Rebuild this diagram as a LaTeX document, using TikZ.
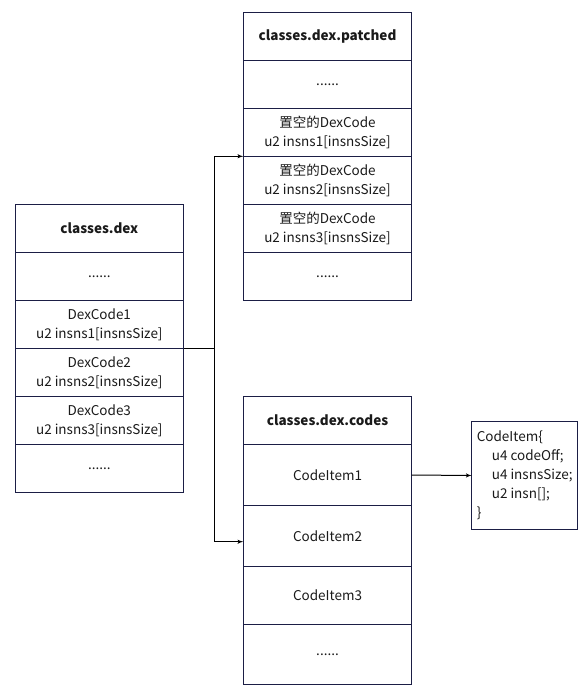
\documentclass[tikz,border=0pt]{standalone}
\usepackage{fontspec}
\setmainfont{Noto Sans CJK SC}
\usetikzlibrary{arrows}
\definecolor{boxline}{HTML}{1B1E45}
\definecolor{ink}{HTML}{1A1A1A}

\begin{document}
\begin{tikzpicture}[x=1pt,y=-1pt]

\tikzset{cell/.style = {shape=rectangle,draw=boxline,line width=1pt,minimum width=168.4pt,minimum height=48pt,inner sep=0pt,outer sep=0pt,align=center,text=ink,font=\fontsize{13.5}{19}\selectfont}}
\tikzset{head/.style = {cell,font=\fontsize{13.5}{19}\selectfont\bfseries}}
\tikzset{edge/.style = {->,> = latex',line width=1pt}}
\useasboundingbox (0,0) rectangle (587,695);
%classes.dex
\node[head] (dexhead) at (99.3,228.3) {classes.dex};
\node[cell] (dex0) at (99.3,276.3) {......};
\node[cell] (dex1) at (99.3,324.3) {DexCode1\\u2 insns1[insnsSize]};
\node[cell] (dex2) at (99.3,372.3) {DexCode2\\u2 insns2[insnsSize]};
\node[cell] (dex3) at (99.3,420.3) {DexCode3\\u2 insns3[insnsSize]};
\node[cell] (dex4) at (99.3,468.6) {......};
%classes.dex.patched
\node[head] (pathead) at (327.5,36.3) {classes.dex.patched};
\node[cell] (pat0) at (327.5,84.3) {......};
\node[cell] (pat1) at (327.5,132.3) {置空的DexCode\\u2 insns1[insnsSize]};
\node[cell] (pat2) at (327.5,180.3) {置空的DexCode\\u2 insns2[insnsSize]};
\node[cell] (pat3) at (327.5,228.3) {置空的DexCode\\u2 insns3[insnsSize]};
\node[cell] (pat4) at (327.5,276.3) {......};
%classes.dex.codes
\node[head] (codhead) at (327.5,420.2) {classes.dex.codes};
\node[cell, minimum height=61.4pt] (cod1) at (327.5,475) {CodeItem1};
\node[cell, minimum height=61pt] (cod2) at (327.5,536.2) {CodeItem2};
\node[cell, minimum height=57.6pt] (cod3) at (327.5,595.5) {CodeItem3};
\node[cell, minimum height=60.7pt] (cod4) at (327.5,654.6) {......};
%CodeItem
\node[cell, minimum width=106pt, minimum height=107.6pt, inner xsep=3pt, align=left] (item) at (524.7,475.5)
  {CodeItem\{\\\hspace*{15pt}u4 codeOff;\\\hspace*{15pt}u4 insnsSize;\\\hspace*{15pt}u2 insn[];\\\}};
%edges
\coordinate (fork) at (214.3,348.3);
\draw [line width=1pt] (dex1.south east) -- (fork);
\draw [edge] (fork) |- (pat1.south west);
\draw [edge] (fork) |- ([yshift=-5.5pt]cod2.west);
\draw [edge] (cod1.east) -- (item.west);

\end{tikzpicture}
\end{document}
